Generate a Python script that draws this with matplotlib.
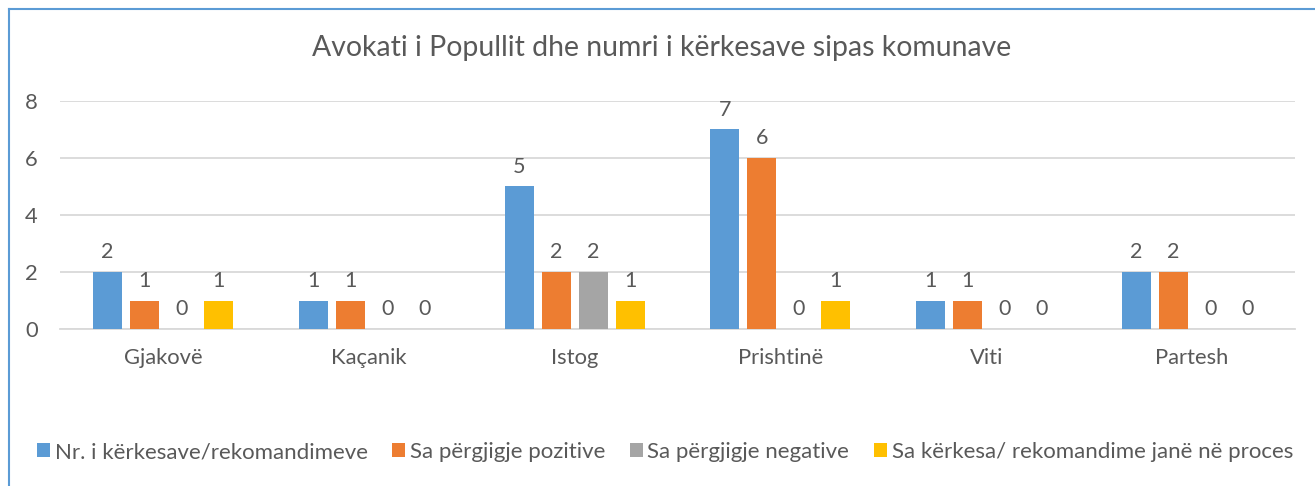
import matplotlib
matplotlib.use("Agg")
import matplotlib.pyplot as plt
import numpy as np
from matplotlib.patches import Patch
from matplotlib.lines import Line2D

plt.rcParams['font.family'] = ['Lato', 'DejaVu Sans']

title = "Avokati i Popullit dhe numri i kërkesave sipas komunave"
categories = ["Gjakovë", "Kaçanik", "Istog", "Prishtinë", "Viti", "Partesh"]
series_names = ["Nr. i kërkesave/rekomandimeve", "Sa përgjigje pozitive",
                "Sa përgjigje negative", "Sa kërkesa/ rekomandime janë në proces"]
nr_kerkesave = [2, 1, 5, 7, 1, 2]
pozitive = [1, 1, 2, 6, 1, 2]
negative = [0, 0, 2, 0, 0, 0]
ne_proces = [1, 0, 1, 1, 0, 0]
colors = ["#5B9BD5", "#ED7D31", "#A5A5A5", "#FFC000"]
yticks = [0, 2, 4, 6, 8]

series = [nr_kerkesave, pozitive, negative, ne_proces]
text_color = "#595959"

fig = plt.figure(figsize=(13.15, 4.86), dpi=100)
W, H = 1315, 486
ax = fig.add_axes([60 / W, 1 - 329 / H, (1295 - 60) / W, (329 - 101) / H])

x = np.arange(len(categories))
step = 37 / 205.8
width = 29 / 205.8
for i, (vals, c) in enumerate(zip(series, colors)):
    pos = x + (i - 1.5) * step
    ax.bar(pos, vals, width=width, color=c, zorder=3)
    for p, v in zip(pos, vals):
        ax.annotate(str(v), (p, v), xytext=(0, 7), textcoords="offset points",
                    ha="center", va="bottom", fontsize=15.5, color=text_color)

ax.set_xlim(-0.5, len(categories) - 0.5)
ax.set_ylim(0, 8)
ax.set_yticks(yticks)
ax.set_xticks(x)
ax.set_xticklabels(categories)
ax.grid(axis="y", color="#D9D9D9", linewidth=1.3, zorder=0)
for s in ["top", "right", "left"]:
    ax.spines[s].set_visible(False)
ax.spines["bottom"].set_color("#D9D9D9")
ax.spines["bottom"].set_linewidth(1.3)
ax.tick_params(axis="both", length=0, labelsize=15.8, colors=text_color)
ax.tick_params(axis="y", pad=16)
ax.tick_params(axis="x", pad=14)

fig.text(662 / W, 1 - 48 / H, title, ha="center", va="center", fontsize=20.4, color=text_color)

handles = [Patch(facecolor=c, edgecolor="none") for c in colors]
leg = fig.legend(handles, series_names, loc="center left", ncol=4,
                 bbox_to_anchor=(28 / W, 1 - 452 / H), frameon=False,
                 fontsize=16, handlelength=0.6, handleheight=0.6,
                 handletextpad=0.2, columnspacing=1.1, borderaxespad=0)
for t in leg.get_texts():
    t.set_color(text_color)

# chart border (left and top visible)
fig.add_artist(Line2D([8.5 / W, 8.5 / W], [0, 1 - 9 / H], transform=fig.transFigure,
                      color="#5B9BD5", linewidth=1.5))
fig.add_artist(Line2D([8.5 / W, 1], [1 - 9 / H, 1 - 9 / H], transform=fig.transFigure,
                      color="#5B9BD5", linewidth=1.5))

fig.savefig("out.png", dpi=100)
